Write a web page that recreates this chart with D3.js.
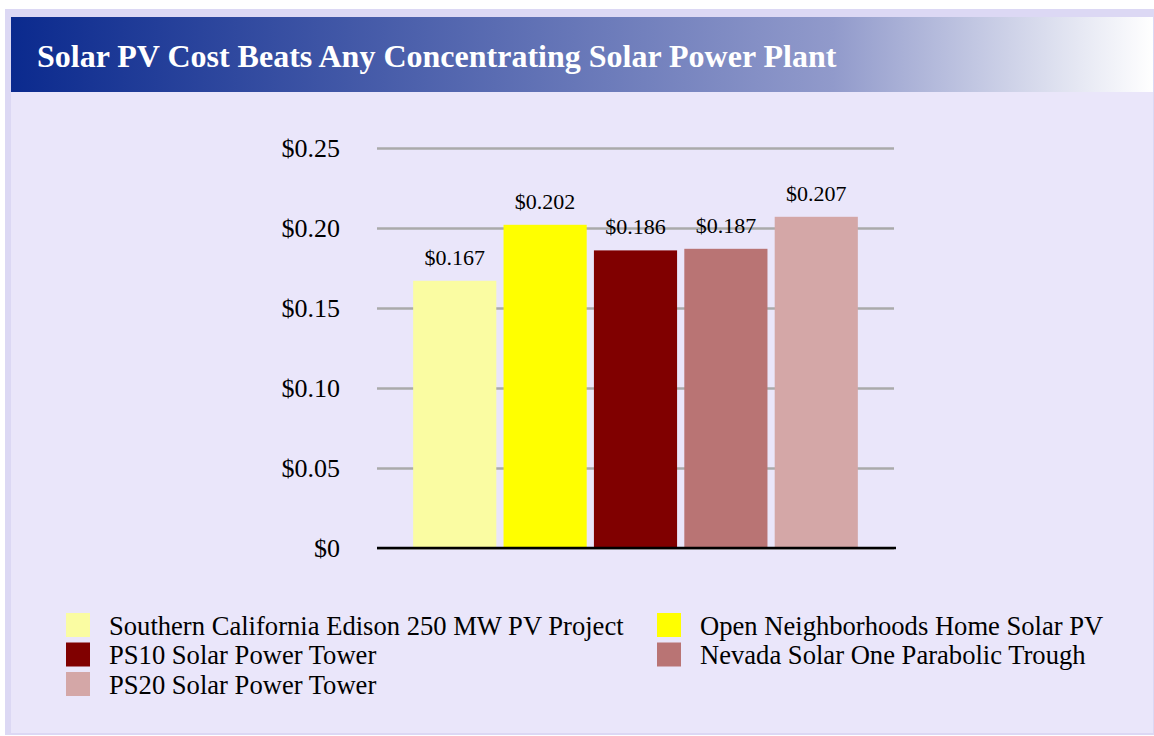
<!DOCTYPE html>
<html>
<head>
<meta charset="utf-8">
<script src="https://cdn.jsdelivr.net/npm/d3@7"></script>
<style>
  body { margin: 0; background: #fff; }
  svg { display: block; }
  text { font-family: "Liberation Serif", "Times New Roman", serif; }
</style>
</head>
<body>
<script>
const categories = [
  "Southern California Edison 250 MW PV Project",
  "Open Neighborhoods Home Solar PV",
  "PS10 Solar Power Tower",
  "Nevada Solar One Parabolic Trough",
  "PS20 Solar Power Tower"
];
const costs = [0.167, 0.202, 0.186, 0.187, 0.207];
const colors = ["#fafca2", "#ffff00", "#800000", "#b97474", "#d4a7a7"];
const yTicks = [0, 0.05, 0.10, 0.15, 0.20, 0.25];
const title = "Solar PV Cost Beats Any Concentrating Solar Power Plant";

const width = 1154, height = 736;

const svg = d3.select("body").append("svg")
  .attr("width", width)
  .attr("height", height);

const defs = svg.append("defs");
const grad = defs.append("linearGradient").attr("id", "titleGrad")
  .attr("x1", "0%").attr("x2", "100%").attr("y1", "0%").attr("y2", "0%");
grad.append("stop").attr("offset", "0%").attr("stop-color", "#0b2a8e");
grad.append("stop").attr("offset", "72%").attr("stop-color", "#919acb");
grad.append("stop").attr("offset", "100%").attr("stop-color", "#ffffff");

// frame
svg.append("rect").attr("x", 5).attr("y", 9).attr("width", width - 5).attr("height", 726)
  .attr("fill", "#dcd8f4");
svg.append("rect").attr("x", 11).attr("y", 17).attr("width", 1142).attr("height", 716)
  .attr("fill", "#eae6fa");
svg.append("rect").attr("x", 11).attr("y", 17).attr("width", 1142).attr("height", 75)
  .attr("fill", "url(#titleGrad)");
svg.append("text").attr("x", 37).attr("y", 67)
  .attr("fill", "#fff").attr("font-weight", "bold").attr("font-size", 32)
  .text(title);

// scales
const x = d3.scaleBand().domain(categories).range([377, 894])
  .paddingInner(0.08).paddingOuter(0.4);
const y = d3.scaleLinear().domain([0, 0.25]).range([548, 148]);

const fmt = d => d === 0 ? "$0" : "$" + d3.format(".2f")(d);

// gridlines + axis labels
const yAxis = svg.append("g")
  .attr("transform", "translate(377,0)")
  .call(d3.axisLeft(y).tickValues(yTicks).tickFormat(fmt).tickSize(-517).tickPadding(37));
yAxis.select(".domain").remove();
yAxis.selectAll(".tick line").attr("stroke", "#aaaaaa").attr("stroke-width", 2.5);
yAxis.selectAll(".tick text")
  .attr("font-family", "Liberation Serif, serif").attr("font-size", 26).attr("fill", "#000");

// bars
svg.append("g").selectAll("rect")
  .data(costs)
  .join("rect")
  .attr("x", (d, i) => x(categories[i]))
  .attr("y", d => y(d))
  .attr("width", x.bandwidth())
  .attr("height", d => y(0) - y(d))
  .attr("fill", (d, i) => colors[i]);

svg.append("g").selectAll("text")
  .data(costs)
  .join("text")
  .attr("x", (d, i) => x(categories[i]) + x.bandwidth() / 2)
  .attr("y", d => y(d) - 16)
  .attr("text-anchor", "middle")
  .attr("font-size", 22)
  .text(d => "$" + d3.format(".3f")(d));

// baseline
svg.append("line").attr("x1", 377).attr("x2", 896).attr("y1", y(0)).attr("y2", y(0))
  .attr("stroke", "#000").attr("stroke-width", 2.5);

// legend
const legendCols = [66, 657];
const legend = svg.append("g").selectAll("g")
  .data(categories)
  .join("g")
  .attr("transform", (d, i) => `translate(${legendCols[i % 2]},${613 + Math.floor(i / 2) * 29.5})`);
legend.append("rect").attr("width", 24).attr("height", 24)
  .attr("fill", (d, i) => colors[i]);
legend.append("text").attr("x", 43).attr("y", 21.5)
  .attr("font-size", 26.6)
  .text(d => d);
</script>
</body>
</html>
